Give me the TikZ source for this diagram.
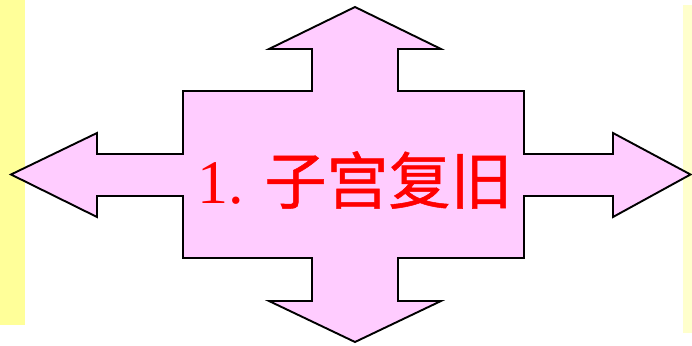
\documentclass[tikz,border=0pt]{standalone}
\usepackage{fontspec}
\setmainfont{Liberation Serif}
\newfontfamily\cjk[FakeBold=0.8]{Noto Sans CJK SC}
\definecolor{pinkfill}{HTML}{FFCCFF}
\definecolor{yelA}{HTML}{FFFF99}
\definecolor{yelB}{HTML}{FFFFCC}
\definecolor{txtred}{HTML}{FF0000}
\begin{document}
\begin{tikzpicture}[x=1pt,y=1pt,
  crossarrow/.style={draw=black,line width=1.9pt,fill=pinkfill,line join=miter},
  title/.style={text=txtred,font=\fontsize{62}{62}\selectfont,inner sep=0pt}]
\useasboundingbox (0,0) rectangle (692,345);
\fill[yelA] (0,20) rectangle (25,345);
\fill[yelB] (683,12) rectangle (692,340);
\draw[crossarrow] (355,338) -- (441,296) -- (398,296) -- (398,254) -- (524,254)
  -- (524,191) -- (613,191) -- (613,212) -- (690.5,170.5) -- (613,128) -- (613,149)
  -- (524,149) -- (524,87) -- (398,87) -- (398,44) -- (441,44) -- (355,3)
  -- (269,44) -- (312,44) -- (312,87) -- (183,87) -- (183,149) -- (97,149)
  -- (97,128) -- (11,170.5) -- (97,212) -- (97,191) -- (183,191) -- (183,254)
  -- (312,254) -- (312,296) -- (269,296) -- cycle;
\node[title] (label) at (355,165) {1. {\cjk 子宫复旧}};
\end{tikzpicture}
\end{document}
